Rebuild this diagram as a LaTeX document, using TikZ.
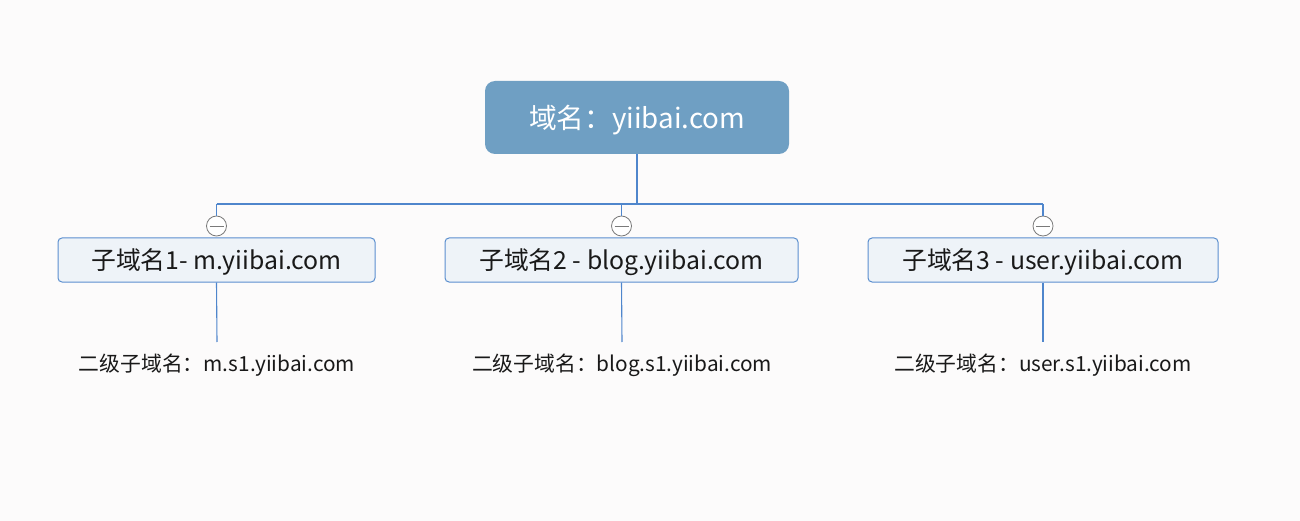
\documentclass[tikz,border=0pt]{standalone}
\usepackage{fontspec}
\setmainfont{Noto Sans CJK SC}
\definecolor{bg}{HTML}{FCFBFB}
\definecolor{topfill}{HTML}{6F9FC3}
\definecolor{childfill}{HTML}{EEF3F8}
\definecolor{childline}{HTML}{5B8FCF}
\definecolor{conn}{HTML}{4F86CC}
\definecolor{knob}{HTML}{7A7A7A}
\begin{document}
\begin{tikzpicture}[x=1pt,y=-1pt,
  topbox/.style={draw=none,fill=topfill,rounded corners=10pt,text=white,font=\fontsize{27.7}{32}\selectfont,minimum width=304pt,minimum height=73pt,inner sep=0pt,text height=24pt,text depth=1.6pt},
  childbox/.style={draw=childline,line width=1pt,fill=childfill,rounded corners=4pt,text=black!90,font=\fontsize{24.8}{28}\selectfont,minimum height=44pt,inner sep=0pt,text height=22pt,text depth=2.6pt},
  leaf/.style={text=black!90,font=\fontsize{20.8}{24}\selectfont,inner sep=0pt},
  connector/.style={draw=conn,line width=1.1pt},
  knobc/.style={circle,draw=knob,fill=white,line width=0.8pt,minimum size=20pt,inner sep=0pt}]
\fill[bg] (0,0) rectangle (1300,521);
\useasboundingbox (0,0) rectangle (1300,521);
\node[topbox] (root) at (637,117.5) {域名：yiibai.com};
\node[childbox,minimum width=317pt] (c1) at (216.5,260) {子域名1- m.yiibai.com};
\node[childbox,minimum width=353pt] (c2) at (621.5,260) {子域名2 - blog.yiibai.com};
\node[childbox,minimum width=350pt] (c3) at (1043,260) {子域名3 - user.yiibai.com};
\node[knobc] (k1) at (216.5,226) {};
\node[knobc] (k2) at (621.5,226) {};
\node[knobc] (k3) at (1043,226) {};
\foreach \k in {k1,k2,k3}{\draw[knob,line width=0.9pt] ([xshift=-7pt]\k.center) -- ([xshift=7pt]\k.center);}
\coordinate (j) at (637,204);
\coordinate (h1) at (216.5,204);
\coordinate (h2) at (621.5,204);
\coordinate (h3) at (1043,204);
\draw[connector] (root.south) -- (j);
\draw[connector] (h1) -- (h3);
\draw[connector] (h1) -- (k1.north);
\draw[connector] (h2) -- (k2.north);
\draw[connector] (h3) -- (k3.north);
\node[leaf] (l1) at (217,365) {二级子域名：m.s1.yiibai.com};
\node[leaf] (l2) at (622,365) {二级子域名：blog.s1.yiibai.com};
\node[leaf] (l3) at (1043,365) {二级子域名：user.s1.yiibai.com};
\coordinate (e1) at (217,342);
\coordinate (e2) at (622,342);
\coordinate (e3) at (1043,342);
\draw[connector] (c1.south) -- (e1);
\draw[connector] (c2.south) -- (e2);
\draw[connector] (c3.south) -- (e3);
\end{tikzpicture}
\end{document}
